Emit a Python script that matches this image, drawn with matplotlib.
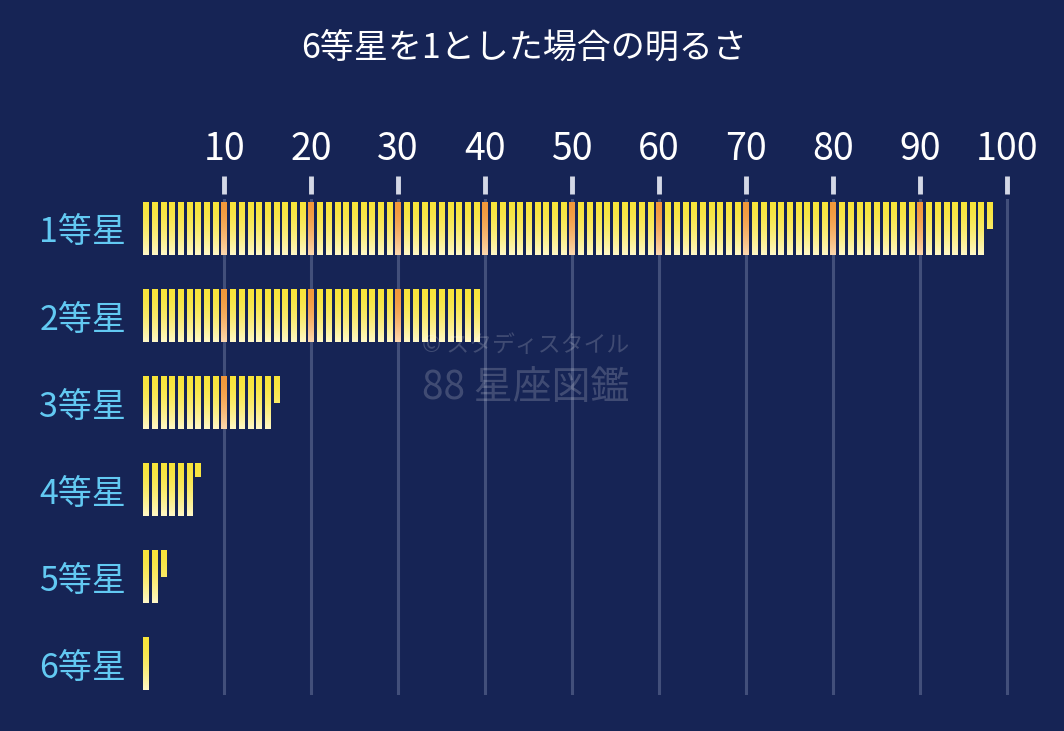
import numpy as np
import matplotlib.pyplot as plt
from matplotlib.colors import to_rgb
from matplotlib.transforms import blended_transform_factory

plt.rcParams['font.family'] = ['Noto Sans CJK JP', 'DejaVu Sans']

# data (brightness relative to a 6th magnitude star, as drawn)
classes = ['1等星', '2等星', '3等星', '4等星', '5等星', '6等星']
brightness = [97.5, 39.0, 15.5, 6.25, 2.5, 1.0]
x_ticks = [10, 20, 30, 40, 50, 60, 70, 80, 90, 100]
title = '6等星を1とした場合の明るさ'

BG = '#162455'
LABEL = '#62c9f2'
STRIPE_W = 0.62
STRIPE_H = 0.6


def gradient(top, bottom, n=64):
    t = np.linspace(0, 1, n)[:, None] ** 1.6
    a, b = np.array(to_rgb(top)), np.array(to_rgb(bottom))
    return (a * (1 - t) + b * t)[:, None, :]


yellow = gradient('#f7e43a', '#fff8c8')
orange = gradient('#f2983a', '#fcd8b0')

fig = plt.figure(figsize=(10.64, 7.31), dpi=100, facecolor=BG)
ax = fig.add_axes([0.1289, 0.0499, 0.8422, 0.6785], facecolor=BG)

# vertical gridlines
for t in x_ticks:
    ax.axvline(t, color='#c8d0ea', alpha=0.25, lw=2.2, zorder=1)

# striped bars: one stripe per unit, last partial stripe hangs from the top
for row, v in enumerate(brightness):
    n_full = int(v)
    frac = v - n_full
    top = row - STRIPE_H / 2
    for k in range(1, n_full + 1):
        img = orange if k % 10 == 0 else yellow
        ax.imshow(img, extent=(k - STRIPE_W / 2, k + STRIPE_W / 2, top + STRIPE_H, top),
                  origin='upper', aspect='auto', interpolation='bilinear', zorder=2)
    if frac > 0:
        k = n_full + 1
        n = max(1, int(round(frac * yellow.shape[0])))
        ax.imshow(yellow[:n], extent=(k - STRIPE_W / 2, k + STRIPE_W / 2, top + frac * STRIPE_H, top),
                  origin='upper', aspect='auto', interpolation='bilinear', zorder=2)

ax.set_xlim(0, 103)
ax.set_ylim(len(classes) - 1 + 0.35, -0.35)

# top ticks
ax.xaxis.set_ticks_position('top')
ax.set_xticks(x_ticks)
ax.set_xticklabels([str(t) for t in x_ticks])
ax.tick_params(axis='x', length=0, pad=21, labelsize=27, labelcolor='white')
trans = blended_transform_factory(ax.transData, ax.transAxes)
ax.vlines(x_ticks, 1.009, 1.045, transform=trans, color='#d4d8e6', lw=3.5, clip_on=False)

ax.set_yticks(range(len(classes)))
ax.set_yticklabels(classes)
ax.tick_params(axis='y', length=0, pad=8, labelsize=24.5, labelcolor=LABEL)

for s in ax.spines.values():
    s.set_visible(False)

fig.text(524 / 1064, 1 - 48 / 731, title, color='white', fontsize=24.5,
         ha='center', va='center')

# watermark
fig.text(526 / 1064, 1 - 346 / 731, '© スタディスタイル', color='white', alpha=0.18,
         fontsize=16.5, ha='center', va='center')
fig.text(526 / 1064, 1 - 388 / 731, '88 星座図鑑', color='white', alpha=0.18,
         fontsize=28, ha='center', va='center')

fig.savefig('out.png', dpi=100, facecolor=BG)
